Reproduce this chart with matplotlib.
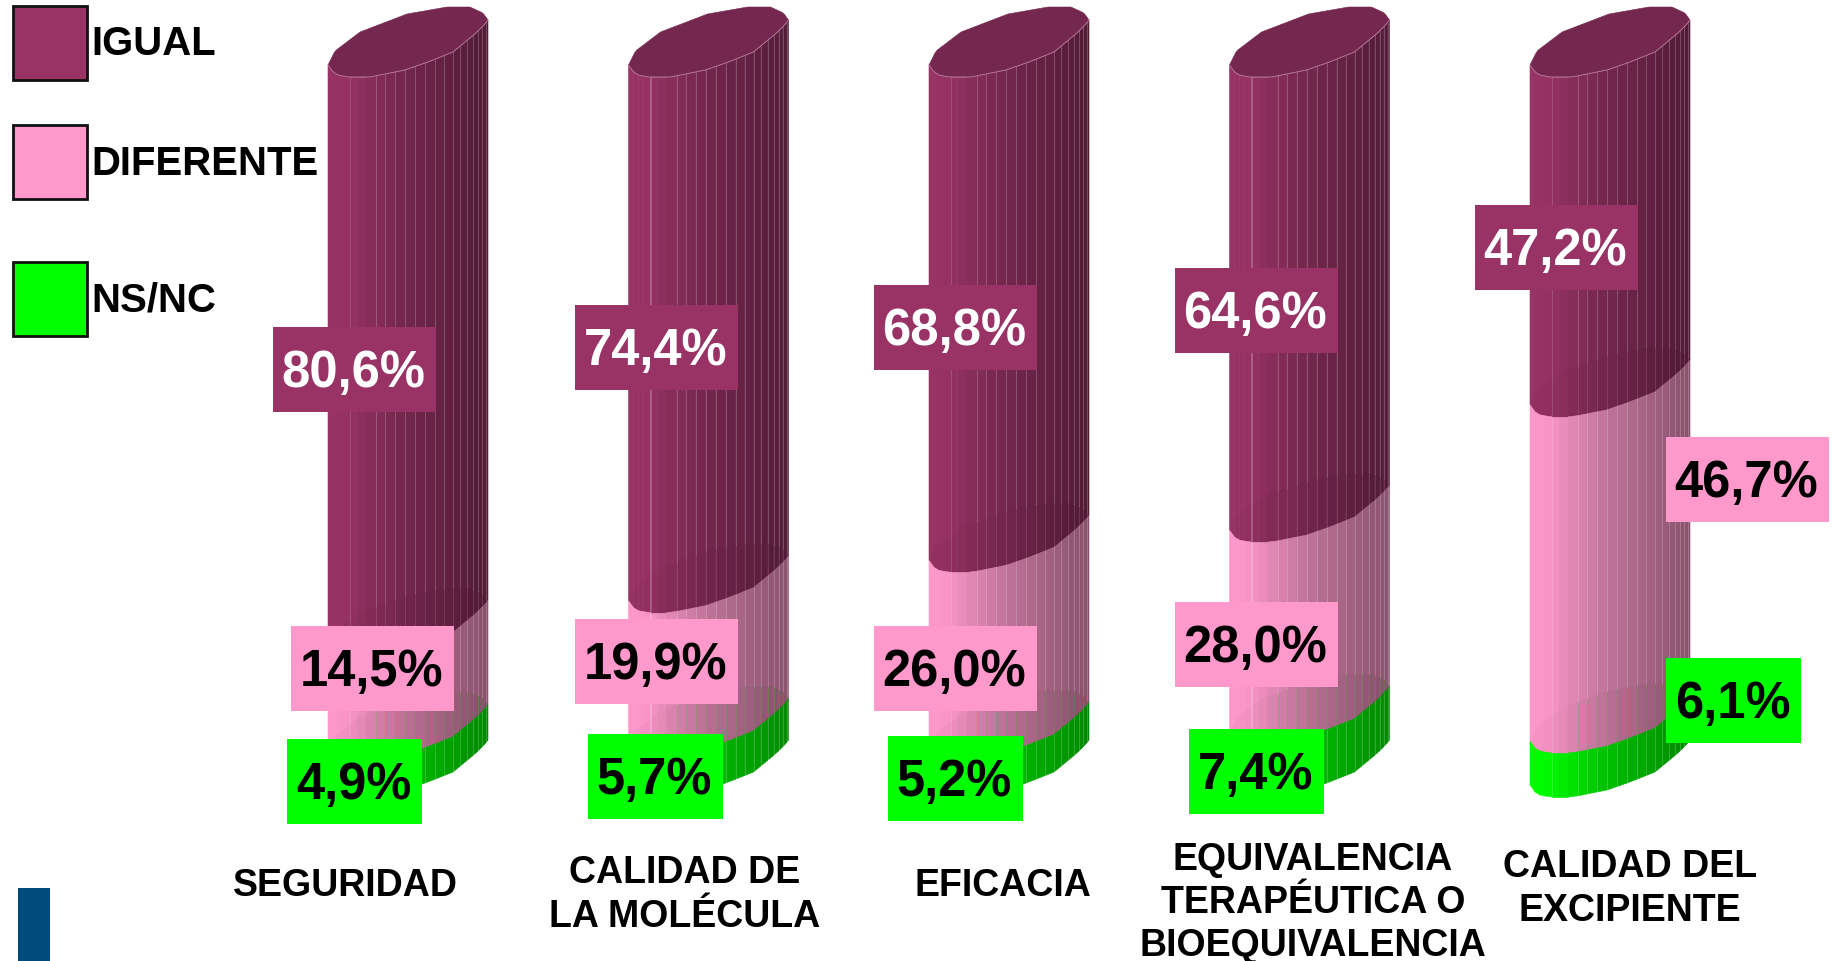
#!/usr/bin/env python3
import numpy as np
import matplotlib
matplotlib.use('Agg')
import matplotlib.pyplot as plt
from matplotlib.patches import Rectangle

plt.rcParams['font.family'] = ['Liberation Sans', 'DejaVu Sans']

# data
categories = ['SEGURIDAD', 'CALIDAD DE\nLA MOLÉCULA', 'EFICACIA',
              'EQUIVALENCIA\nTERAPÉUTICA O\nBIOEQUIVALENCIA', 'CALIDAD DEL\nEXCIPIENTE']
series_names = ['IGUAL', 'DIFERENTE', 'NS/NC']
igual = [80.6, 74.4, 68.8, 64.6, 47.2]
diferente = [14.5, 19.9, 26.0, 28.0, 46.7]
nsnc = [4.9, 5.7, 5.2, 7.4, 6.1]
series = [igual, diferente, nsnc]
colors = ['#993366', '#FF99CC', '#00FF00']

# layout, in pixels of the 1839x962 picture
W, H = 1839, 962
PX_PCT = 7.2     # pixels for one percent
PX_CAT = 300.5   # pixels between two columns
COL_W = 160
X0, Y0 = 408, 66  # centre of first column, left end of 0% line

# shape of the column: strips and the slanted ellipse
strip_dx = np.array([0, 5, 10, 15, 22, 28, 38, 48, 57, 67, 77, 87, 97, 107, 116,
                     125, 132, 139, 145, 150, 154, 158, 160], dtype=float)
front_dx = [0, 5, 10, 20, 42, 77, 100, 125, 148, 157, 160]
front_dy = [0, 7, 10, 12, 12, 5, -3, -13, -32, -41, -45]
back_dx = [0, 7, 32, 79, 119, 142, 155, 160]
back_dy = [0, -14, -33, -51, -58, -58, -52, -45]

# label boxes: left, top of each box per column, same order as series
box_left = [[273, 291, 287], [575, 575, 588], [874, 874, 888], [1175, 1175, 1189], [1475, 1666, 1666]]
box_top = [[328, 627, 740], [306, 620, 735], [286, 627, 737], [269, 603, 730], [206, 438, 659]]
cat_x = [345, 685, 1003, 1313, 1630]
cat_y = [886, 895, 886, 903, 889]

fig = plt.figure(figsize=(W / 100, H / 100), dpi=100, facecolor='white')

ax = fig.add_axes([0, 0, 1, 1])
ax.set_xlim((0 - X0) / PX_CAT, (W - X0) / PX_CAT)
ax.set_ylim((H - Y0) / PX_PCT, (0 - Y0) / PX_PCT)
ax.axis('off')


def shade(color, dx):
    rgb = np.array(matplotlib.colors.to_rgb(color))
    return tuple(rgb * np.interp(dx, [0, 20, 77, 160], [1.0, 0.97, 0.75, 0.53]))


def front(dx):
    return np.interp(dx, front_dx, front_dy) / PX_PCT


def back(dx):
    return np.interp(dx, back_dx, back_dy) / PX_PCT


w_cat = COL_W / PX_CAT
dxs = np.linspace(0, COL_W, 80)
for i in range(len(categories)):
    x_left = i - w_cat / 2
    bottom = 0.0
    for s, vals in enumerate(series):
        top_y = bottom
        bot_y = bottom + vals[i]
        last = s == len(series) - 1
        for k in range(len(strip_dx) - 1):
            a, b = strip_dx[k], strip_dx[k + 1]
            xs = np.array([a, b, b, a]) / PX_CAT + x_left
            ys = [top_y + front(a), top_y + front(b), bot_y + front(b), bot_y + front(a)]
            ax.fill(xs, ys, color=shade(colors[s], (a + b) / 2), lw=0.4, zorder=2)
            # thin light lines between the strips, they stop at the next segment's back edge
            if k >= 7:
                end = bot_y + (front(a) if last else back(a))
                ax.plot([xs[0], xs[0]], [ys[0], end], color='white', alpha=0.22, lw=0.7, zorder=3)
                if not last:
                    ax.plot([xs[0], xs[0]], [end, ys[3]], color=colors[s + 1], alpha=0.2, lw=0.7, zorder=3)

        # the next segment's back edge shows a little through this one
        if not last:
            xs = np.concatenate([dxs, dxs[::-1]]) / PX_CAT + x_left
            ys = bot_y + np.concatenate([back(dxs), front(dxs)[::-1]])
            ax.fill(xs, ys, color='black', alpha=0.025, lw=0, zorder=3)
        bottom = bot_y

    # top of the column
    xs = np.concatenate([dxs, dxs[::-1]]) / PX_CAT + x_left
    ys = np.concatenate([back(dxs), front(dxs)[::-1]])
    ax.fill(xs, ys, color='#75284F', lw=0.4, zorder=4)
    ax.plot(dxs / PX_CAT + x_left, front(dxs), color='#C080A0', lw=0.6, zorder=4)

# second axes in pixels, for legend, boxes and names
pa = fig.add_axes([0, 0, 1, 1], facecolor='none')
pa.set_xlim(0, W)
pa.set_ylim(H, 0)
pa.axis('off')

legend_top = [7, 126, 263]
legend_text_y = [40, 160, 297]
for name, col, t, ty in zip(series_names, colors, legend_top, legend_text_y):
    pa.add_patch(Rectangle((13, t), 74, 74, facecolor=col, edgecolor='#111111', lw=2.0))
    pa.text(91, ty, name, fontsize=28.9, fontweight='bold', ha='left', va='center_baseline')

for i in range(len(categories)):
    for s, vals in enumerate(series):
        txt = f'{vals[i]:.1f}%'.replace('.', ',')
        bw = 163 if vals[i] >= 10 else 135
        bl, bt = box_left[i][s], box_top[i][s]
        pa.add_patch(Rectangle((bl, bt), bw, 85, facecolor=colors[s], edgecolor='none', zorder=5))
        pa.text(bl + bw / 2 - 1, bt + 40, txt, fontsize=36.5, fontweight='bold',
                color='white' if s == 0 else 'black', ha='center', va='center_baseline', zorder=6)
    pa.text(cat_x[i], cat_y[i], categories[i], fontsize=27, fontweight='bold',
            ha='center', va='center', linespacing=1.26, zorder=6)

# small blue block bottom left
pa.add_patch(Rectangle((18, 889), 32, 73, facecolor='#004B7C', edgecolor='none'))

fig.savefig('out.png', dpi=100)
